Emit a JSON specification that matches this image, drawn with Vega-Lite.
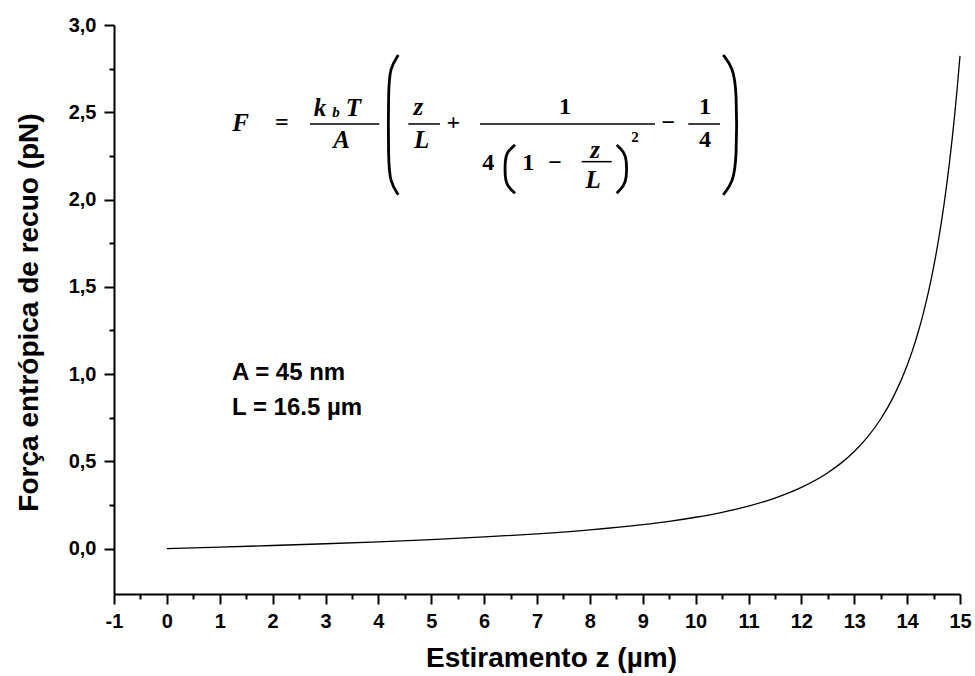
{
  "$schema": "https://vega.github.io/schema/vega-lite/v6.json",
  "width": 846,
  "height": 569,
  "autosize": {"type": "none"},
  "padding": {"left": 114, "top": 25, "right": 15, "bottom": 82},
  "background": "white",
  "config": {
    "view": {"stroke": null},
    "axis": {
      "grid": false,
      "domainColor": "black",
      "domainWidth": 2,
      "tickColor": "black",
      "tickWidth": 2,
      "labelFont": "Liberation Sans",
      "labelFontWeight": "bold",
      "labelFontSize": 20,
      "labelColor": "black",
      "labelFlush": false,
      "labelOverlap": false,
      "titleFont": "Liberation Sans",
      "titleFontWeight": "bold",
      "titleFontSize": 28,
      "titleColor": "black"
    }
  },
  "datasets": {
    "curve": [
      {"z": 0, "F": 0},
      {"z": 1, "F": 0.0086},
      {"z": 2, "F": 0.0178},
      {"z": 3, "F": 0.0279},
      {"z": 4, "F": 0.0391},
      {"z": 5, "F": 0.0518},
      {"z": 6, "F": 0.0668},
      {"z": 7, "F": 0.0848},
      {"z": 8, "F": 0.1075},
      {"z": 9, "F": 0.1375},
      {"z": 9.5, "F": 0.1566},
      {"z": 10, "F": 0.1797},
      {"z": 10.5, "F": 0.208},
      {"z": 11, "F": 0.2435},
      {"z": 11.5, "F": 0.2895},
      {"z": 12, "F": 0.3506},
      {"z": 12.5, "F": 0.4349},
      {"z": 12.75, "F": 0.4898},
      {"z": 13, "F": 0.5565},
      {"z": 13.25, "F": 0.639},
      {"z": 13.5, "F": 0.7426},
      {"z": 13.75, "F": 0.8753},
      {"z": 14, "F": 1.0493},
      {"z": 14.1, "F": 1.1344},
      {"z": 14.2, "F": 1.2309},
      {"z": 14.3, "F": 1.3406},
      {"z": 14.4, "F": 1.4665},
      {"z": 14.5, "F": 1.6115},
      {"z": 14.6, "F": 1.7799},
      {"z": 14.7, "F": 1.9771},
      {"z": 14.8, "F": 2.21},
      {"z": 14.9, "F": 2.4878},
      {"z": 14.95, "F": 2.6473},
      {"z": 15, "F": 2.8229}
    ],
    "bars": [
      {"x": 2.707, "x2": 4.018, "y": 2.433},
      {"x": 4.566, "x2": 5.165, "y": 2.433},
      {"x": 5.922, "x2": 9.232, "y": 2.433},
      {"x": 7.845, "x2": 8.413, "y": 2.217},
      {"x": 9.861, "x2": 10.461, "y": 2.433}
    ],
    "parens": [
      {"id": "L1", "ord": 1, "x": 4.377, "y": 2.828},
      {"id": "L1", "ord": 2, "x": 4.22, "y": 2.754},
      {"id": "L1", "ord": 3, "x": 4.188, "y": 2.628},
      {"id": "L1", "ord": 4, "x": 4.188, "y": 2.227},
      {"id": "L1", "ord": 5, "x": 4.22, "y": 2.101},
      {"id": "L1", "ord": 6, "x": 4.377, "y": 2.027},
      {"id": "R1", "ord": 1, "x": 10.523, "y": 2.828},
      {"id": "R1", "ord": 2, "x": 10.707, "y": 2.754},
      {"id": "R1", "ord": 3, "x": 10.777, "y": 2.628},
      {"id": "R1", "ord": 4, "x": 10.777, "y": 2.227},
      {"id": "R1", "ord": 5, "x": 10.707, "y": 2.101},
      {"id": "R1", "ord": 6, "x": 10.523, "y": 2.027},
      {"id": "L2", "ord": 1, "x": 6.584, "y": 2.313},
      {"id": "L2", "ord": 2, "x": 6.433, "y": 2.273},
      {"id": "L2", "ord": 3, "x": 6.395, "y": 2.227},
      {"id": "L2", "ord": 4, "x": 6.395, "y": 2.124},
      {"id": "L2", "ord": 5, "x": 6.433, "y": 2.078},
      {"id": "L2", "ord": 6, "x": 6.584, "y": 2.036},
      {"id": "R2", "ord": 1, "x": 8.507, "y": 2.313},
      {"id": "R2", "ord": 2, "x": 8.645, "y": 2.273},
      {"id": "R2", "ord": 3, "x": 8.696, "y": 2.227},
      {"id": "R2", "ord": 4, "x": 8.696, "y": 2.124},
      {"id": "R2", "ord": 5, "x": 8.645, "y": 2.078},
      {"id": "R2", "ord": 6, "x": 8.507, "y": 2.036}
    ],
    "letters": [
      {"x": 1.396, "y": 2.437, "t": "F"},
      {"x": 2.896, "y": 2.523, "t": "k"},
      {"x": 3.526, "y": 2.523, "t": "T"},
      {"x": 3.306, "y": 2.342, "t": "A"},
      {"x": 4.755, "y": 2.532, "t": "z"},
      {"x": 4.819, "y": 2.342, "t": "L"},
      {"x": 8.097, "y": 2.284, "t": "z"},
      {"x": 8.063, "y": 2.113, "t": "L"}
    ],
    "symbols": [
      {"x": 2.172, "y": 2.437, "t": "="},
      {"x": 5.417, "y": 2.437, "t": "+"},
      {"x": 7.53, "y": 2.532, "t": "1"},
      {"x": 6.079, "y": 2.208, "t": "4"},
      {"x": 6.835, "y": 2.208, "t": "1"},
      {"x": 7.34, "y": 2.208, "t": "−"},
      {"x": 9.483, "y": 2.437, "t": "−"},
      {"x": 10.177, "y": 2.532, "t": "1"},
      {"x": 10.177, "y": 2.342, "t": "4"}
    ],
    "subs": [
      {"x": 3.199, "y": 2.504, "t": "b"}
    ],
    "sups": [
      {"x": 8.853, "y": 2.361, "t": "2"}
    ],
    "info": [
      {"x": 1.232, "y": 1.008, "t": "A = 45 nm"},
      {"x": 1.232, "y": 0.807, "t": "L = 16.5 µm"}
    ]
  },
  "layer": [
    {
      "data": {"name": "curve"},
      "mark": {"type": "line", "color": "black", "strokeWidth": 1.3, "interpolate": "monotone"},
      "encoding": {
        "x": {
          "field": "z", "type": "quantitative",
          "scale": {"domain": [-1, 15], "nice": false, "zero": false},
          "axis": {
            "orient": "bottom",
            "values": [-1, 0, 1, 2, 3, 4, 5, 6, 7, 8, 9, 10, 11, 12, 13, 14, 15],
            "labelExpr": "datum.value < 0 ? '-' + abs(datum.value) : '' + datum.value",
            "tickSize": 10,
            "labelPadding": 7,
            "title": "Estiramento z (µm)",
            "titleX": 437,
            "titleY": 72,
            "titleBaseline": "alphabetic"
          }
        },
        "y": {
          "field": "F", "type": "quantitative",
          "scale": {"domain": [-0.26, 3.0], "nice": false, "zero": false},
          "axis": {
            "orient": "left",
            "values": [0, 0.5, 1, 1.5, 2, 2.5, 3],
            "labelExpr": "replace(format(datum.value, '.1f'), '.', ',')",
            "tickSize": 10,
            "labelPadding": 8,
            "title": "Força entrópica de recuo (pN)",
            "titleX": -77,
            "titleY": 287,
            "titleAngle": -90,
            "titleBaseline": "alphabetic"
          }
        }
      }
    },
    {
      "data": {"name": "curve"},
      "mark": {"type": "line", "opacity": 0},
      "encoding": {
        "x": {
          "field": "z", "type": "quantitative",
          "scale": {"domain": [-1, 15], "nice": false, "zero": false},
          "axis": {
            "orient": "bottom",
            "values": [-0.5, 0.5, 1.5, 2.5, 3.5, 4.5, 5.5, 6.5, 7.5, 8.5, 9.5, 10.5, 11.5, 12.5, 13.5, 14.5],
            "labels": false, "domain": false, "tickSize": 5, "title": null
          }
        },
        "y": {
          "field": "F", "type": "quantitative",
          "scale": {"domain": [-0.26, 3.0], "nice": false, "zero": false},
          "axis": {
            "orient": "left",
            "values": [0.25, 0.75, 1.25, 1.75, 2.25, 2.75],
            "labels": false, "domain": false, "tickSize": 5, "title": null
          }
        }
      }
    },
    {
      "data": {"name": "bars"},
      "mark": {"type": "rule", "color": "black", "strokeWidth": 1.5},
      "encoding": {
        "x": {"field": "x", "type": "quantitative", "scale": {"domain": [-1, 15], "nice": false, "zero": false}, "axis": null},
        "x2": {"field": "x2"},
        "y": {"field": "y", "type": "quantitative", "scale": {"domain": [-0.26, 3.0], "nice": false, "zero": false}, "axis": null}
      }
    },
    {
      "data": {"name": "parens"},
      "mark": {"type": "line", "color": "black", "strokeWidth": 2.8, "interpolate": "basis"},
      "encoding": {
        "x": {"field": "x", "type": "quantitative", "scale": {"domain": [-1, 15], "nice": false, "zero": false}, "axis": null},
        "y": {"field": "y", "type": "quantitative", "scale": {"domain": [-0.26, 3.0], "nice": false, "zero": false}, "axis": null},
        "detail": {"field": "id", "type": "nominal"},
        "order": {"field": "ord", "type": "quantitative"}
      }
    },
    {
      "data": {"name": "letters"},
      "mark": {"type": "text", "font": "Liberation Serif", "fontStyle": "italic", "fontWeight": "bold", "fontSize": 25, "color": "black", "align": "center", "baseline": "middle"},
      "encoding": {
        "x": {"field": "x", "type": "quantitative", "scale": {"domain": [-1, 15], "nice": false, "zero": false}, "axis": null},
        "y": {"field": "y", "type": "quantitative", "scale": {"domain": [-0.26, 3.0], "nice": false, "zero": false}, "axis": null},
        "text": {"field": "t", "type": "nominal"}
      }
    },
    {
      "data": {"name": "symbols"},
      "mark": {"type": "text", "font": "Liberation Serif", "fontWeight": "bold", "fontSize": 24, "color": "black", "align": "center", "baseline": "middle"},
      "encoding": {
        "x": {"field": "x", "type": "quantitative", "scale": {"domain": [-1, 15], "nice": false, "zero": false}, "axis": null},
        "y": {"field": "y", "type": "quantitative", "scale": {"domain": [-0.26, 3.0], "nice": false, "zero": false}, "axis": null},
        "text": {"field": "t", "type": "nominal"}
      }
    },
    {
      "data": {"name": "subs"},
      "mark": {"type": "text", "font": "Liberation Serif", "fontStyle": "italic", "fontWeight": "bold", "fontSize": 15, "color": "black", "align": "center", "baseline": "middle"},
      "encoding": {
        "x": {"field": "x", "type": "quantitative", "scale": {"domain": [-1, 15], "nice": false, "zero": false}, "axis": null},
        "y": {"field": "y", "type": "quantitative", "scale": {"domain": [-0.26, 3.0], "nice": false, "zero": false}, "axis": null},
        "text": {"field": "t", "type": "nominal"}
      }
    },
    {
      "data": {"name": "sups"},
      "mark": {"type": "text", "font": "Liberation Serif", "fontWeight": "bold", "fontSize": 15, "color": "black", "align": "center", "baseline": "middle"},
      "encoding": {
        "x": {"field": "x", "type": "quantitative", "scale": {"domain": [-1, 15], "nice": false, "zero": false}, "axis": null},
        "y": {"field": "y", "type": "quantitative", "scale": {"domain": [-0.26, 3.0], "nice": false, "zero": false}, "axis": null},
        "text": {"field": "t", "type": "nominal"}
      }
    },
    {
      "data": {"name": "info"},
      "mark": {"type": "text", "font": "Liberation Sans", "fontWeight": "bold", "fontSize": 24, "color": "black", "align": "left", "baseline": "middle"},
      "encoding": {
        "x": {"field": "x", "type": "quantitative", "scale": {"domain": [-1, 15], "nice": false, "zero": false}, "axis": null},
        "y": {"field": "y", "type": "quantitative", "scale": {"domain": [-0.26, 3.0], "nice": false, "zero": false}, "axis": null},
        "text": {"field": "t", "type": "nominal"}
      }
    }
  ],
  "resolve": {"axis": {"x": "independent", "y": "independent"}}
}
